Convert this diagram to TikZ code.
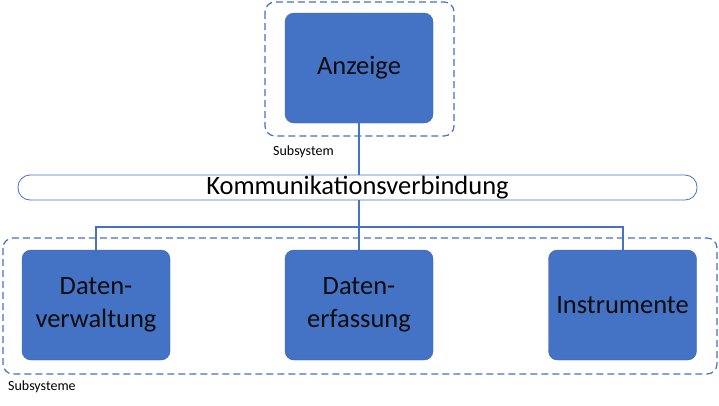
\documentclass[tikz,border=0pt]{standalone}
\usepackage{fontspec}
\setmainfont{Carlito}
\usepackage{tikz}
\usetikzlibrary{positioning}
\definecolor{boxblue}{RGB}{68,114,196}

\begin{document}
\begin{tikzpicture}[x=1pt,y=-1pt,
unit/.style={draw=boxblue!85!black, fill=boxblue, rounded corners=9pt, minimum width=148pt, minimum height=110pt, align=center, text=black!95, font=\fontsize{26.5}{33}\selectfont, inner sep=2pt},
group/.style={draw=boxblue, dashed, dash pattern=on 7pt off 4pt, rounded corners=10pt, line width=1.2pt},
bus/.style={draw=boxblue, fill=white, rounded corners=12pt, minimum width=679pt, minimum height=25pt, inner sep=0pt, line width=0.8pt, font=\fontsize{26.5}{28}\selectfont},
link/.style={draw=boxblue, line width=2pt},
tag/.style={anchor=west, font=\fontsize{14}{16}\selectfont, inner sep=0pt}]
\useasboundingbox (0,0) rectangle (719,405);
% top subsystem
\draw[group] (265,2) rectangle (454,136);
\node[unit] (anz) at (359,68) {Anzeige};
\node[tag] (sys) at (273,152) {Subsystem};
% bus
\node[bus] (kom) at (357.5,187.5) {Kommunikationsverbindung};
% lower subsystems
\draw[group] (3,238) rectangle (717,374);
\node[unit] (dv) at (96,305) {Daten-\\verwaltung};
\node[unit] (de) at (359,305) {Daten-\\erfassung};
\node[unit] (ins) at (622.5,305) {Instrumente};
\node[tag] (subs) at (8,387) {Subsysteme};
% connectors
\coordinate (hub) at (359,227);
\draw[link] (anz.south) -- (anz.south |- kom.north);
\draw[link] (kom.south -| hub) -- (hub);
\draw[link] (dv.north) |- (hub) -| (ins.north);
\draw[link] (hub) -- (de.north);
\end{tikzpicture}
\end{document}
